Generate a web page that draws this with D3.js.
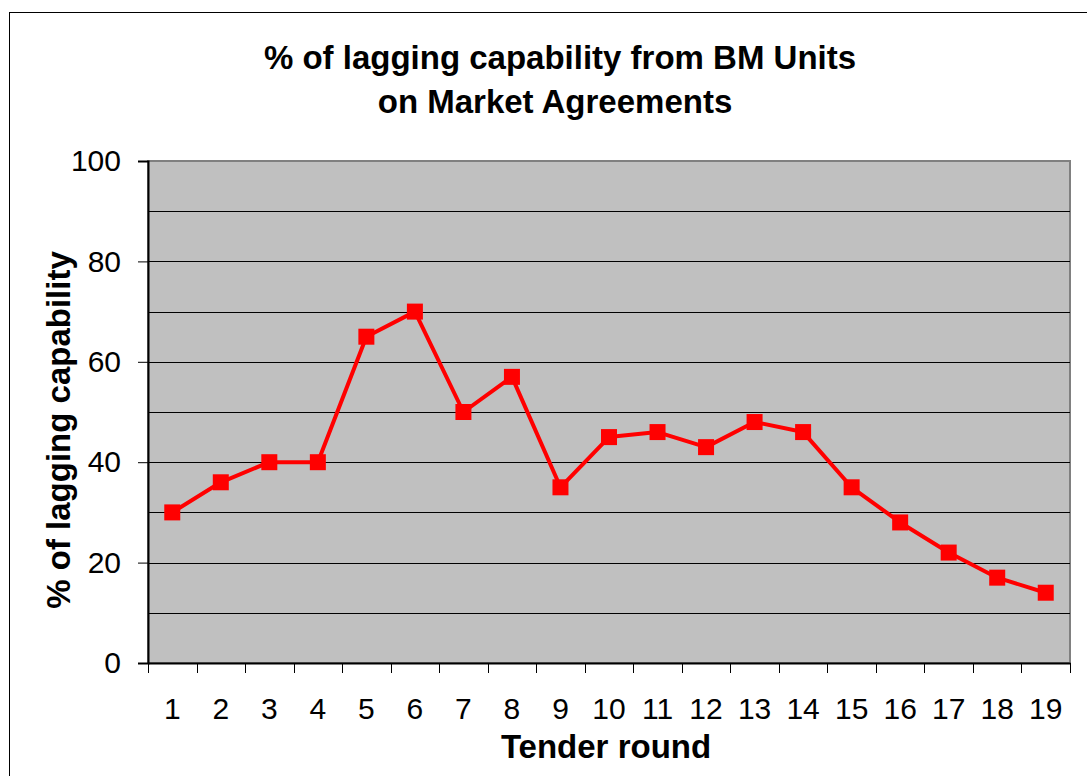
<!DOCTYPE html>
<html>
<head>
<meta charset="utf-8">
<script src="https://cdn.jsdelivr.net/npm/d3@7"></script>
<style>
  body { margin: 0; background: #fff; }
  svg { display: block; font-family: "Liberation Sans", Arial, sans-serif; }
</style>
</head>
<body>
<div id="main"></div>
<script>
const rounds = ["1","2","3","4","5","6","7","8","9","10","11","12","13","14","15","16","17","18","19"];
const lagging = [30, 36, 40, 40, 65, 70, 50, 57, 35, 45, 46, 43, 48, 46, 35, 28, 22, 17, 14];
const yTicks = [0, 20, 40, 60, 80, 100];
const yGrid = [10, 20, 30, 40, 50, 60, 70, 80, 90];

const W = 1087, H = 776;
const c = {left: 148, right: 1070, top: 161, bottom: 663};

const svg = d3.select("#main").append("svg")
  .attr("width", W).attr("height", H);

// chart frame
svg.append("rect")
  .attr("x", 9.5).attr("y", 12.5)
  .attr("width", 1100).attr("height", 800)
  .attr("fill", "none").attr("stroke", "#000");

const x = d3.scaleBand().domain(rounds).range([c.left, c.right]);
const y = d3.scaleLinear().domain([0, 100]).range([c.bottom, c.top]);

// plot area
svg.append("rect")
  .attr("x", c.left).attr("y", c.top)
  .attr("width", c.right - c.left).attr("height", c.bottom - c.top)
  .attr("fill", "#c0c0c0")
  .attr("stroke", "#808080").attr("stroke-width", 2);

svg.append("g")
  .selectAll("line")
  .data(yGrid)
  .join("line")
  .attr("x1", c.left).attr("x2", c.right)
  .attr("y1", d => Math.round(y(d)) + 0.5).attr("y2", d => Math.round(y(d)) + 0.5)
  .attr("stroke", "#000").attr("stroke-width", 1);

// y axis
const yAxis = d3.axisLeft(y).tickValues(yTicks).tickSize(10).tickPadding(17);
svg.append("g")
  .attr("transform", `translate(${c.left},0)`)
  .call(yAxis)
  .call(g => g.select(".domain").attr("stroke", "#000").attr("stroke-width", 2))
  .call(g => g.selectAll(".tick line").attr("stroke", "#000"))
  .call(g => g.selectAll(".tick text")
    .attr("font-size", 30).attr("fill", "#000")
    .attr("font-family", "Liberation Sans, Arial, sans-serif"));

// x axis: ticks between categories
const xAxis = d3.axisBottom(x).tickSize(0).tickPadding(35);
svg.append("g")
  .attr("transform", `translate(0,${c.bottom})`)
  .call(xAxis)
  .call(g => g.select(".domain").attr("stroke", "#000").attr("stroke-width", 2))
  .call(g => g.selectAll(".tick text")
    .attr("font-size", 30).attr("fill", "#000")
    .attr("font-family", "Liberation Sans, Arial, sans-serif"));

svg.append("g")
  .selectAll("line")
  .data(rounds.concat(["end"]))
  .join("line")
  .attr("x1", (d, i) => Math.round(c.left + i * x.step()) + 0.5)
  .attr("x2", (d, i) => Math.round(c.left + i * x.step()) + 0.5)
  .attr("y1", c.bottom).attr("y2", c.bottom + 10)
  .attr("stroke", "#000");

// series
const pts = rounds.map((r, i) => ({r, v: lagging[i]}));
const cx = d => x(d.r) + x.bandwidth() / 2;

svg.append("path")
  .datum(pts)
  .attr("fill", "none")
  .attr("stroke", "#ff0000")
  .attr("stroke-width", 4)
  .attr("stroke-linejoin", "round")
  .attr("d", d3.line().x(cx).y(d => y(d.v)));

svg.append("g")
  .selectAll("rect")
  .data(pts)
  .join("rect")
  .attr("x", d => cx(d) - 8).attr("y", d => y(d.v) - 8)
  .attr("width", 16).attr("height", 16)
  .attr("fill", "#ff0000");

// titles
const title = svg.append("text")
  .attr("text-anchor", "middle")
  .attr("font-size", 33).attr("font-weight", "bold");
title.append("tspan").attr("x", 560).attr("y", 69).text("% of lagging capability from BM Units");
title.append("tspan").attr("x", 555).attr("y", 113).text("on Market Agreements");

svg.append("text")
  .attr("x", 606).attr("y", 758)
  .attr("text-anchor", "middle")
  .attr("font-size", 33).attr("font-weight", "bold")
  .text("Tender round");

svg.append("text")
  .attr("transform", "translate(70,430) rotate(-90)")
  .attr("text-anchor", "middle")
  .attr("font-size", 33).attr("font-weight", "bold")
  .text("% of lagging capability");
</script>
</body>
</html>
